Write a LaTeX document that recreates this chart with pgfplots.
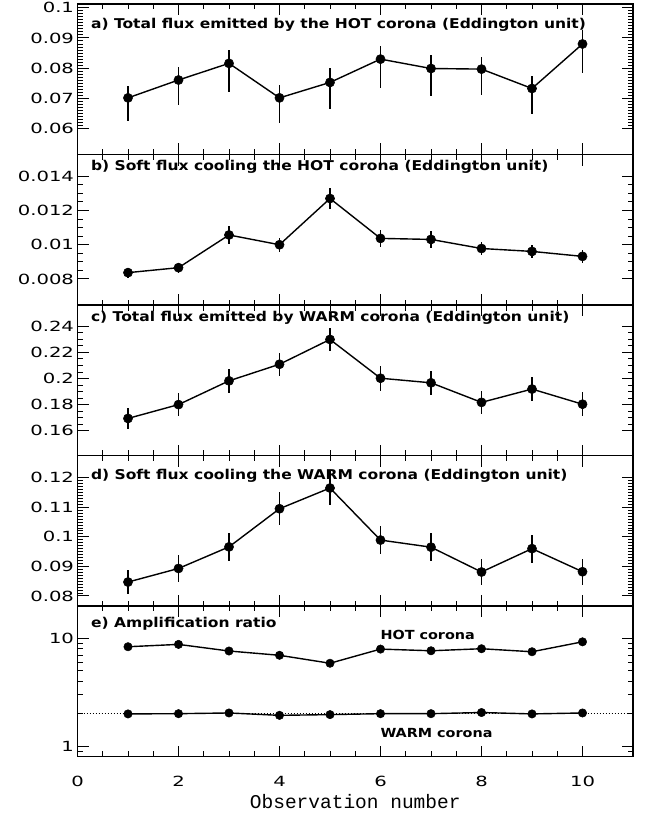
\documentclass[border=0pt]{standalone}
\usepackage{fontspec}
\setmainfont{DejaVu Sans}
\newfontfamily\titlefont[FakeStretch=1.15]{DejaVu Sans Bold}
\newfontfamily\labfont{Liberation Mono}
\usepackage{pgfplots}
\pgfplotsset{compat=1.18}
\newcommand{\tl}[1]{\scalebox{1.4}[1]{\fontsize{14}{16}\selectfont #1}}

\pgfplotsset{
  panel/.style={
    scale only axis, width=555.5pt, height=150.5pt,
    xmin=0, xmax=11, xtick={0,2,4,6,8,10}, minor x tick num=3,
    tick align=inside, axis line style={line width=1.6pt},
    major tick length=11pt, minor tick length=5.5pt,
    every tick/.style={black, line width=1pt},
    every minor tick/.style={black, line width=0.9pt},
    scaled y ticks=false,
    xticklabels={}, anchor=north west,
    clip=false,
  },
  dat/.style={black, line width=1.4pt, mark=*, mark size=4.6pt,
    mark options={line width=0.5pt},
    error bars/.cd, y dir=both, y explicit,
    error bar style={line width=1.4pt}, error mark=none, /pgfplots/.cd},
}
\newcommand{\ptitle}[2]{\node[anchor=west, font=\titlefont\fontsize{13.5}{15}\selectfont] at (rel axis cs:0.018,#1) {#2};}

\begin{document}
\begin{tikzpicture}
\useasboundingbox (0,0) rectangle (648pt,-816pt);

% a) hot corona total flux
\begin{axis}[panel, at={(77.5pt,-4pt)},
  ymin=0.0515, ymax=0.1012,
  ytick={0.06,0.07,0.08,0.09,0.1},
  yticklabels={\tl{0.06},\tl{0.07},\tl{0.08},\tl{0.09},\tl{0.1}}, minor y tick num=9]
\addplot[dat] coordinates {
 (1,0.0702) += (0,0.0039) -= (0,0.0076)
 (2,0.0761) += (0,0.0042) -= (0,0.0084)
 (3,0.0816) += (0,0.0044) -= (0,0.0094)
 (4,0.0702) += (0,0.0041) -= (0,0.0083)
 (5,0.0753) += (0,0.0046) -= (0,0.0089)
 (6,0.0830) += (0,0.0044) -= (0,0.0094)
 (7,0.0799) += (0,0.0044) -= (0,0.0090)
 (8,0.0797) += (0,0.0041) -= (0,0.0086)
 (9,0.0733) += (0,0.0041) -= (0,0.0083)
 (10,0.0880) += (0,0.0047) -= (0,0.0097)
};
\ptitle{0.86}{a) Total flux emitted by the HOT corona (Eddington unit)}
\end{axis}

% b) soft flux cooling hot corona
\begin{axis}[panel, at={(77.5pt,-154.5pt)},
  ymin=0.00648, ymax=0.01527,
  ytick={0.008,0.01,0.012,0.014},
  yticklabels={\tl{0.008},\tl{0.01},\tl{0.012},\tl{0.014}}, minor y tick num=3]
\addplot[dat] coordinates {
 (1,0.00837) +- (0,0.0003)
 (2,0.00866) +- (0,0.0003)
 (3,0.01057) +- (0,0.0005)
 (4,0.0100) +- (0,0.0004)
 (5,0.0127) +- (0,0.0006)
 (6,0.01037) +- (0,0.0005)
 (7,0.01031) +- (0,0.0005)
 (8,0.00978) +- (0,0.0004)
 (9,0.00961) +- (0,0.0004)
 (10,0.00932) +- (0,0.0004)
};
\ptitle{0.915}{b) Soft flux cooling the HOT corona (Eddington unit)}
\end{axis}

% c) warm corona total flux
\begin{axis}[panel, at={(77.5pt,-305pt)},
  ymin=0.141, ymax=0.2563,
  ytick={0.16,0.18,0.2,0.22,0.24},
  yticklabels={\tl{0.16},\tl{0.18},\tl{0.2},\tl{0.22},\tl{0.24}}, minor y tick num=3]
\addplot[dat] coordinates {
 (1,0.1694) +- (0,0.008)
 (2,0.1800) +- (0,0.009)
 (3,0.1982) +- (0,0.009)
 (4,0.2109) +- (0,0.009)
 (5,0.2299) +- (0,0.009)
 (6,0.2002) +- (0,0.0097)
 (7,0.1967) +- (0,0.009)
 (8,0.1817) +- (0,0.009)
 (9,0.1919) +- (0,0.009)
 (10,0.1803) +- (0,0.009)
};
\ptitle{0.915}{c) Total flux emitted by WARM corona (Eddington unit)}
\end{axis}

% d) soft flux cooling warm corona
\begin{axis}[panel, at={(77.5pt,-455.5pt)},
  ymin=0.0766, ymax=0.1275,
  ytick={0.08,0.09,0.1,0.11,0.12},
  yticklabels={\tl{0.08},\tl{0.09},\tl{0.1},\tl{0.11},\tl{0.12}}, minor y tick num=9]
\addplot[dat] coordinates {
 (1,0.0847) +- (0,0.0042)
 (2,0.0893) +- (0,0.0045)
 (3,0.0966) +- (0,0.0047)
 (4,0.1095) +- (0,0.0055)
 (5,0.1165) +- (0,0.0057)
 (6,0.0989) +- (0,0.0048)
 (7,0.0965) +- (0,0.0048)
 (8,0.0881) +- (0,0.0044)
 (9,0.0960) +- (0,0.0047)
 (10,0.0882) +- (0,0.0044)
};
\ptitle{0.862}{d) Soft flux cooling the WARM corona (Eddington unit)}
\end{axis}

% e) amplification ratio
\begin{axis}[panel, at={(77.5pt,-606pt)},
  ymode=log, ymin=0.8, ymax=20,
  ytick={1,10}, yticklabels={\tl{1},\tl{10}},
  minor ytick={0.8,0.9,2,3,4,5,6,7,8,9,20},
  xticklabels={\tl{0},\tl{2},\tl{4},\tl{6},\tl{8},\tl{10}},
  xticklabel style={yshift=-16pt},
  xlabel={\labfont\fontsize{19.5}{22}\selectfont Observation number},
  every axis x label/.style={at={(rel axis cs:0.5,0)}, anchor=center, yshift=-45pt}]
\addplot[black, dotted, line width=1pt] coordinates {(0,2) (11,2)};
\addplot[dat, mark size=4.2pt] coordinates {
 (1,8.37) +- (0,0.3) (2,8.80) +- (0,0.3) (3,7.64) +- (0,0.3)
 (4,6.97) +- (0,0.3) (5,5.88) +- (0,0.25) (6,7.96) +- (0,0.3)
 (7,7.68) +- (0,0.3) (8,8.02) +- (0,0.3) (9,7.52) +- (0,0.3)
 (10,9.30) +- (0,0.35)
};
\addplot[dat, mark size=4.2pt] coordinates {
 (1,1.99) +- (0,0.07) (2,2.00) +- (0,0.07) (3,2.03) +- (0,0.07)
 (4,1.93) +- (0,0.07) (5,1.96) +- (0,0.07) (6,2.00) +- (0,0.07)
 (7,2.00) +- (0,0.07) (8,2.05) +- (0,0.07) (9,1.99) +- (0,0.07)
 (10,2.03) +- (0,0.07)
};
\ptitle{0.88}{e) Amplification ratio}
\node[anchor=west, font=\titlefont\fontsize{12.5}{15}\selectfont] at (axis cs:5.93,10.7) {HOT corona};
\node[anchor=west, font=\titlefont\fontsize{12.5}{15}\selectfont] at (axis cs:5.93,1.33) {WARM corona};
\end{axis}
\end{tikzpicture}
\end{document}
